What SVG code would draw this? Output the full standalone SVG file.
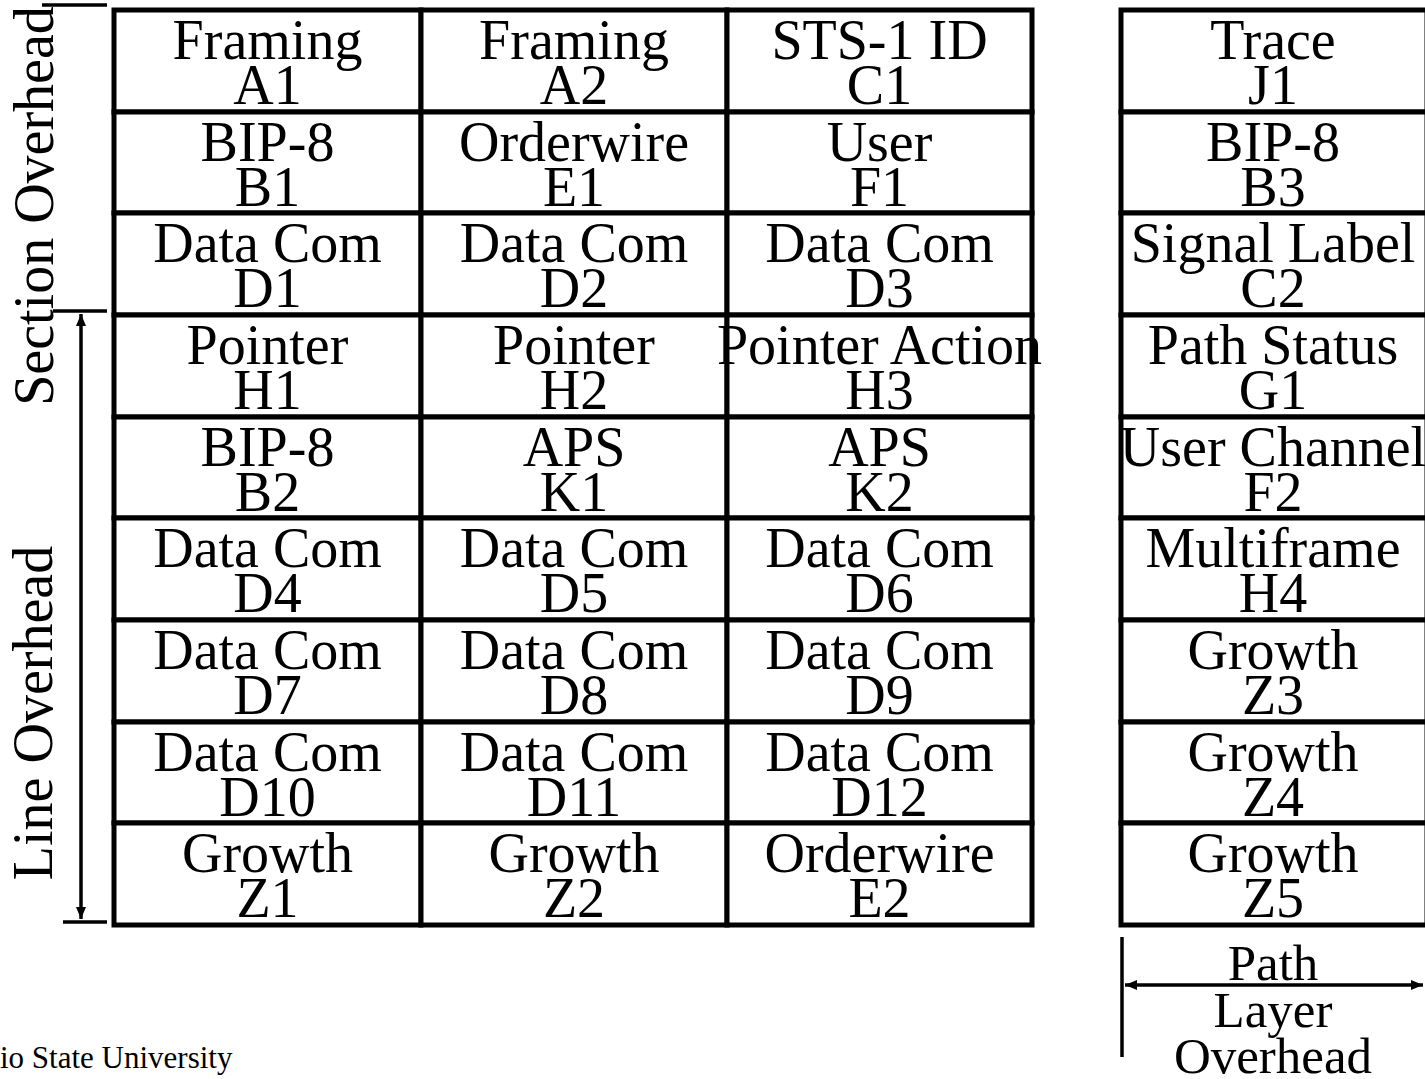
<svg xmlns="http://www.w3.org/2000/svg" width="1425" height="1079" viewBox="0 0 1425 1079">
<style>
.c{fill:#fff;stroke:#000;stroke-width:5}
.t{font-family:"Liberation Serif","Times New Roman",serif;font-size:56px;fill:#000;text-anchor:middle}
.v{font-family:"Liberation Serif","Times New Roman",serif;font-size:56px;fill:#000;text-anchor:middle}
.p{font-family:"Liberation Serif","Times New Roman",serif;font-size:51px;fill:#000;text-anchor:middle}
.f{font-family:"Liberation Serif","Times New Roman",serif;font-size:31px;fill:#000}
.ln{stroke:#000;stroke-width:3.5;fill:none}
</style>
<defs>
<marker id="ah" viewBox="0 0 12 10" refX="12" refY="5" markerWidth="12" markerHeight="10" markerUnits="userSpaceOnUse" orient="auto-start-reverse">
<path d="M0,0 L12,5 L0,10 Z" fill="#000"/>
</marker>
</defs>
<rect width="1425" height="1079" fill="#fff"/>
<g id="grid">
<g id="A1"><rect class="c" x="114" y="10" width="307" height="102"/><text class="t" x="267.5" y="59">Framing</text><text class="t" x="267.5" y="104">A1</text></g>
<g id="A2"><rect class="c" x="421" y="10" width="306" height="102"/><text class="t" x="574" y="59">Framing</text><text class="t" x="574" y="104">A2</text></g>
<g id="C1"><rect class="c" x="727" y="10" width="305" height="102"/><text class="t" x="879.5" y="59">STS-1 ID</text><text class="t" x="879.5" y="104">C1</text></g>

<g id="B1"><rect class="c" x="114" y="112" width="307" height="101"/><text class="t" x="267.5" y="161">BIP-8</text><text class="t" x="267.5" y="206">B1</text></g>
<g id="E1"><rect class="c" x="421" y="112" width="306" height="101"/><text class="t" x="574" y="161">Orderwire</text><text class="t" x="574" y="206">E1</text></g>
<g id="F1"><rect class="c" x="727" y="112" width="305" height="101"/><text class="t" x="879.5" y="161">User</text><text class="t" x="879.5" y="206">F1</text></g>

<g id="D1"><rect class="c" x="114" y="213" width="307" height="102"/><text class="t" x="267.5" y="262">Data Com</text><text class="t" x="267.5" y="307">D1</text></g>
<g id="D2"><rect class="c" x="421" y="213" width="306" height="102"/><text class="t" x="574" y="262">Data Com</text><text class="t" x="574" y="307">D2</text></g>
<g id="D3"><rect class="c" x="727" y="213" width="305" height="102"/><text class="t" x="879.5" y="262">Data Com</text><text class="t" x="879.5" y="307">D3</text></g>

<g id="H1"><rect class="c" x="114" y="315" width="307" height="102"/><text class="t" x="267.5" y="364">Pointer</text><text class="t" x="267.5" y="409">H1</text></g>
<g id="H2"><rect class="c" x="421" y="315" width="306" height="102"/><text class="t" x="574" y="364">Pointer</text><text class="t" x="574" y="409">H2</text></g>
<g id="H3"><rect class="c" x="727" y="315" width="305" height="102"/><text class="t" x="879.5" y="364">Pointer Action</text><text class="t" x="879.5" y="409">H3</text></g>

<g id="B2"><rect class="c" x="114" y="417" width="307" height="101"/><text class="t" x="267.5" y="466">BIP-8</text><text class="t" x="267.5" y="511">B2</text></g>
<g id="K1"><rect class="c" x="421" y="417" width="306" height="101"/><text class="t" x="574" y="466">APS</text><text class="t" x="574" y="511">K1</text></g>
<g id="K2"><rect class="c" x="727" y="417" width="305" height="101"/><text class="t" x="879.5" y="466">APS</text><text class="t" x="879.5" y="511">K2</text></g>

<g id="D4"><rect class="c" x="114" y="518" width="307" height="102"/><text class="t" x="267.5" y="567">Data Com</text><text class="t" x="267.5" y="612">D4</text></g>
<g id="D5"><rect class="c" x="421" y="518" width="306" height="102"/><text class="t" x="574" y="567">Data Com</text><text class="t" x="574" y="612">D5</text></g>
<g id="D6"><rect class="c" x="727" y="518" width="305" height="102"/><text class="t" x="879.5" y="567">Data Com</text><text class="t" x="879.5" y="612">D6</text></g>

<g id="D7"><rect class="c" x="114" y="620" width="307" height="102"/><text class="t" x="267.5" y="669">Data Com</text><text class="t" x="267.5" y="714">D7</text></g>
<g id="D8"><rect class="c" x="421" y="620" width="306" height="102"/><text class="t" x="574" y="669">Data Com</text><text class="t" x="574" y="714">D8</text></g>
<g id="D9"><rect class="c" x="727" y="620" width="305" height="102"/><text class="t" x="879.5" y="669">Data Com</text><text class="t" x="879.5" y="714">D9</text></g>

<g id="D10"><rect class="c" x="114" y="722" width="307" height="101"/><text class="t" x="267.5" y="771">Data Com</text><text class="t" x="267.5" y="816">D10</text></g>
<g id="D11"><rect class="c" x="421" y="722" width="306" height="101"/><text class="t" x="574" y="771">Data Com</text><text class="t" x="574" y="816">D11</text></g>
<g id="D12"><rect class="c" x="727" y="722" width="305" height="101"/><text class="t" x="879.5" y="771">Data Com</text><text class="t" x="879.5" y="816">D12</text></g>

<g id="Z1"><rect class="c" x="114" y="823" width="307" height="102"/><text class="t" x="267.5" y="872">Growth</text><text class="t" x="267.5" y="917">Z1</text></g>
<g id="Z2"><rect class="c" x="421" y="823" width="306" height="102"/><text class="t" x="574" y="872">Growth</text><text class="t" x="574" y="917">Z2</text></g>
<g id="E2"><rect class="c" x="727" y="823" width="305" height="102"/><text class="t" x="879.5" y="872">Orderwire</text><text class="t" x="879.5" y="917">E2</text></g>
</g>

<g id="path-column">
<g id="J1"><rect class="c" x="1121" y="10" width="306" height="102"/><text class="t" x="1273" y="59">Trace</text><text class="t" x="1273" y="104">J1</text></g>
<g id="B3"><rect class="c" x="1121" y="112" width="306" height="101"/><text class="t" x="1273" y="161">BIP-8</text><text class="t" x="1273" y="206">B3</text></g>
<g id="C2"><rect class="c" x="1121" y="213" width="306" height="102"/><text class="t" x="1273" y="262">Signal Label</text><text class="t" x="1273" y="307">C2</text></g>
<g id="G1"><rect class="c" x="1121" y="315" width="306" height="102"/><text class="t" x="1273" y="364">Path Status</text><text class="t" x="1273" y="409">G1</text></g>
<g id="F2"><rect class="c" x="1121" y="417" width="306" height="101"/><text class="t" x="1273" y="466">User Channel</text><text class="t" x="1273" y="511">F2</text></g>
<g id="H4"><rect class="c" x="1121" y="518" width="306" height="102"/><text class="t" x="1273" y="567">Multiframe</text><text class="t" x="1273" y="612">H4</text></g>
<g id="Z3"><rect class="c" x="1121" y="620" width="306" height="102"/><text class="t" x="1273" y="669">Growth</text><text class="t" x="1273" y="714">Z3</text></g>
<g id="Z4"><rect class="c" x="1121" y="722" width="306" height="101"/><text class="t" x="1273" y="771">Growth</text><text class="t" x="1273" y="816">Z4</text></g>
<g id="Z5"><rect class="c" x="1121" y="823" width="306" height="102"/><text class="t" x="1273" y="872">Growth</text><text class="t" x="1273" y="917">Z5</text></g>
</g>

<g id="connectors">
<line class="ln" x1="42" y1="5" x2="107" y2="5"/>
<line class="ln" x1="53" y1="311" x2="107" y2="311"/>
<line class="ln" x1="63" y1="922" x2="107" y2="922"/>
<line class="ln" x1="81" y1="314" x2="81" y2="919" marker-start="url(#ah)" marker-end="url(#ah)"/>
<line class="ln" x1="1122" y1="937" x2="1122" y2="1057"/>
<line class="ln" x1="1125" y1="985" x2="1423" y2="985" marker-start="url(#ah)" marker-end="url(#ah)"/>
</g>

<g id="labels">
<text class="v" transform="translate(53,206) rotate(-90)">Section Overhead</text>
<text class="v" transform="translate(52,713) rotate(-90)">Line Overhead</text>
<text class="p" x="1273" y="980">Path</text>
<text class="p" x="1273" y="1027">Layer</text>
<text class="p" x="1273" y="1073">Overhead</text>
<text class="f" x="0" y="1068">io State University</text>
</g>
</svg>
